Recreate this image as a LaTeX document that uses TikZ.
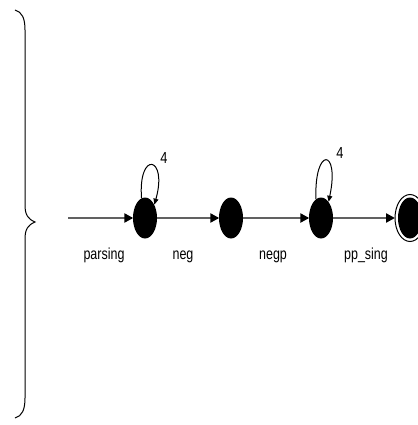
\documentclass[tikz,border=0pt]{standalone}
\usepackage{fontspec}
\setmainfont{Liberation Sans}
\usetikzlibrary{shapes.geometric,arrows.meta}
\begin{document}
\begin{tikzpicture}[x=1pt,y=-1pt,
  state/.style={ellipse,fill=black,inner sep=0pt,minimum width=24pt,minimum height=41pt},
  ring/.style={ellipse,draw=black,line width=1pt,inner sep=0pt,minimum width=30pt,minimum height=47pt},
  edge/.style={draw=black!62,line width=2.8pt,-{Triangle[length=9pt,width=9pt,fill=black,color=black]},shorten >=-0.5pt},
  loopline/.style={draw=black,line width=1pt,-{Triangle[length=6pt,width=5pt]}},
  lab/.style={inner sep=0pt,font=\fontsize{16}{18}\selectfont,xscale=0.78,transform shape,anchor=base},
  num/.style={inner sep=0pt,font=\fontsize{16}{18}\selectfont,xscale=0.8,transform shape}]
\useasboundingbox (0,0) rectangle (417,425);
% brace
\draw[line width=1pt] (15,10) .. controls (22,12) and (25,18) .. (25,30)
  -- (25,205) .. controls (25,215) and (28,219) .. (35,222)
  .. controls (28,225) and (25,229) .. (25,239)
  -- (25,398) .. controls (25,410) and (22,416) .. (15,418);
% states
\node[state] (n1) at (145,218) {};
\node[state] (n2) at (231,218) {};
\node[state] (n3) at (321,218) {};
\node[ring] (n4r) at (410,218) {};
\node[state] (n4) at (410,218) {};
\coordinate (start) at (68,218);
% edges
\draw[edge] (start) -- (n1);
\draw[edge] (n1) -- (n2);
\draw[edge] (n2) -- (n3);
\draw[edge] (n3) -- (n4r);
% loops
\draw[loopline] (n1.100) .. controls (138,150) and (168,156) .. (n1.55);
\draw[loopline] (n3.105) .. controls (314,146) and (340,148) .. (n3.65);
% labels
\node[lab] (l1) at (104,259) {parsing};
\node[lab] (l2) at (183,259) {neg};
\node[lab] (l3) at (273,259) {negp};
\node[lab] (l4) at (366,259) {pp\_sing};
\node[num] (c1) at (164,158) {4};
\node[num] (c2) at (340,153) {4};
\end{tikzpicture}
\end{document}
